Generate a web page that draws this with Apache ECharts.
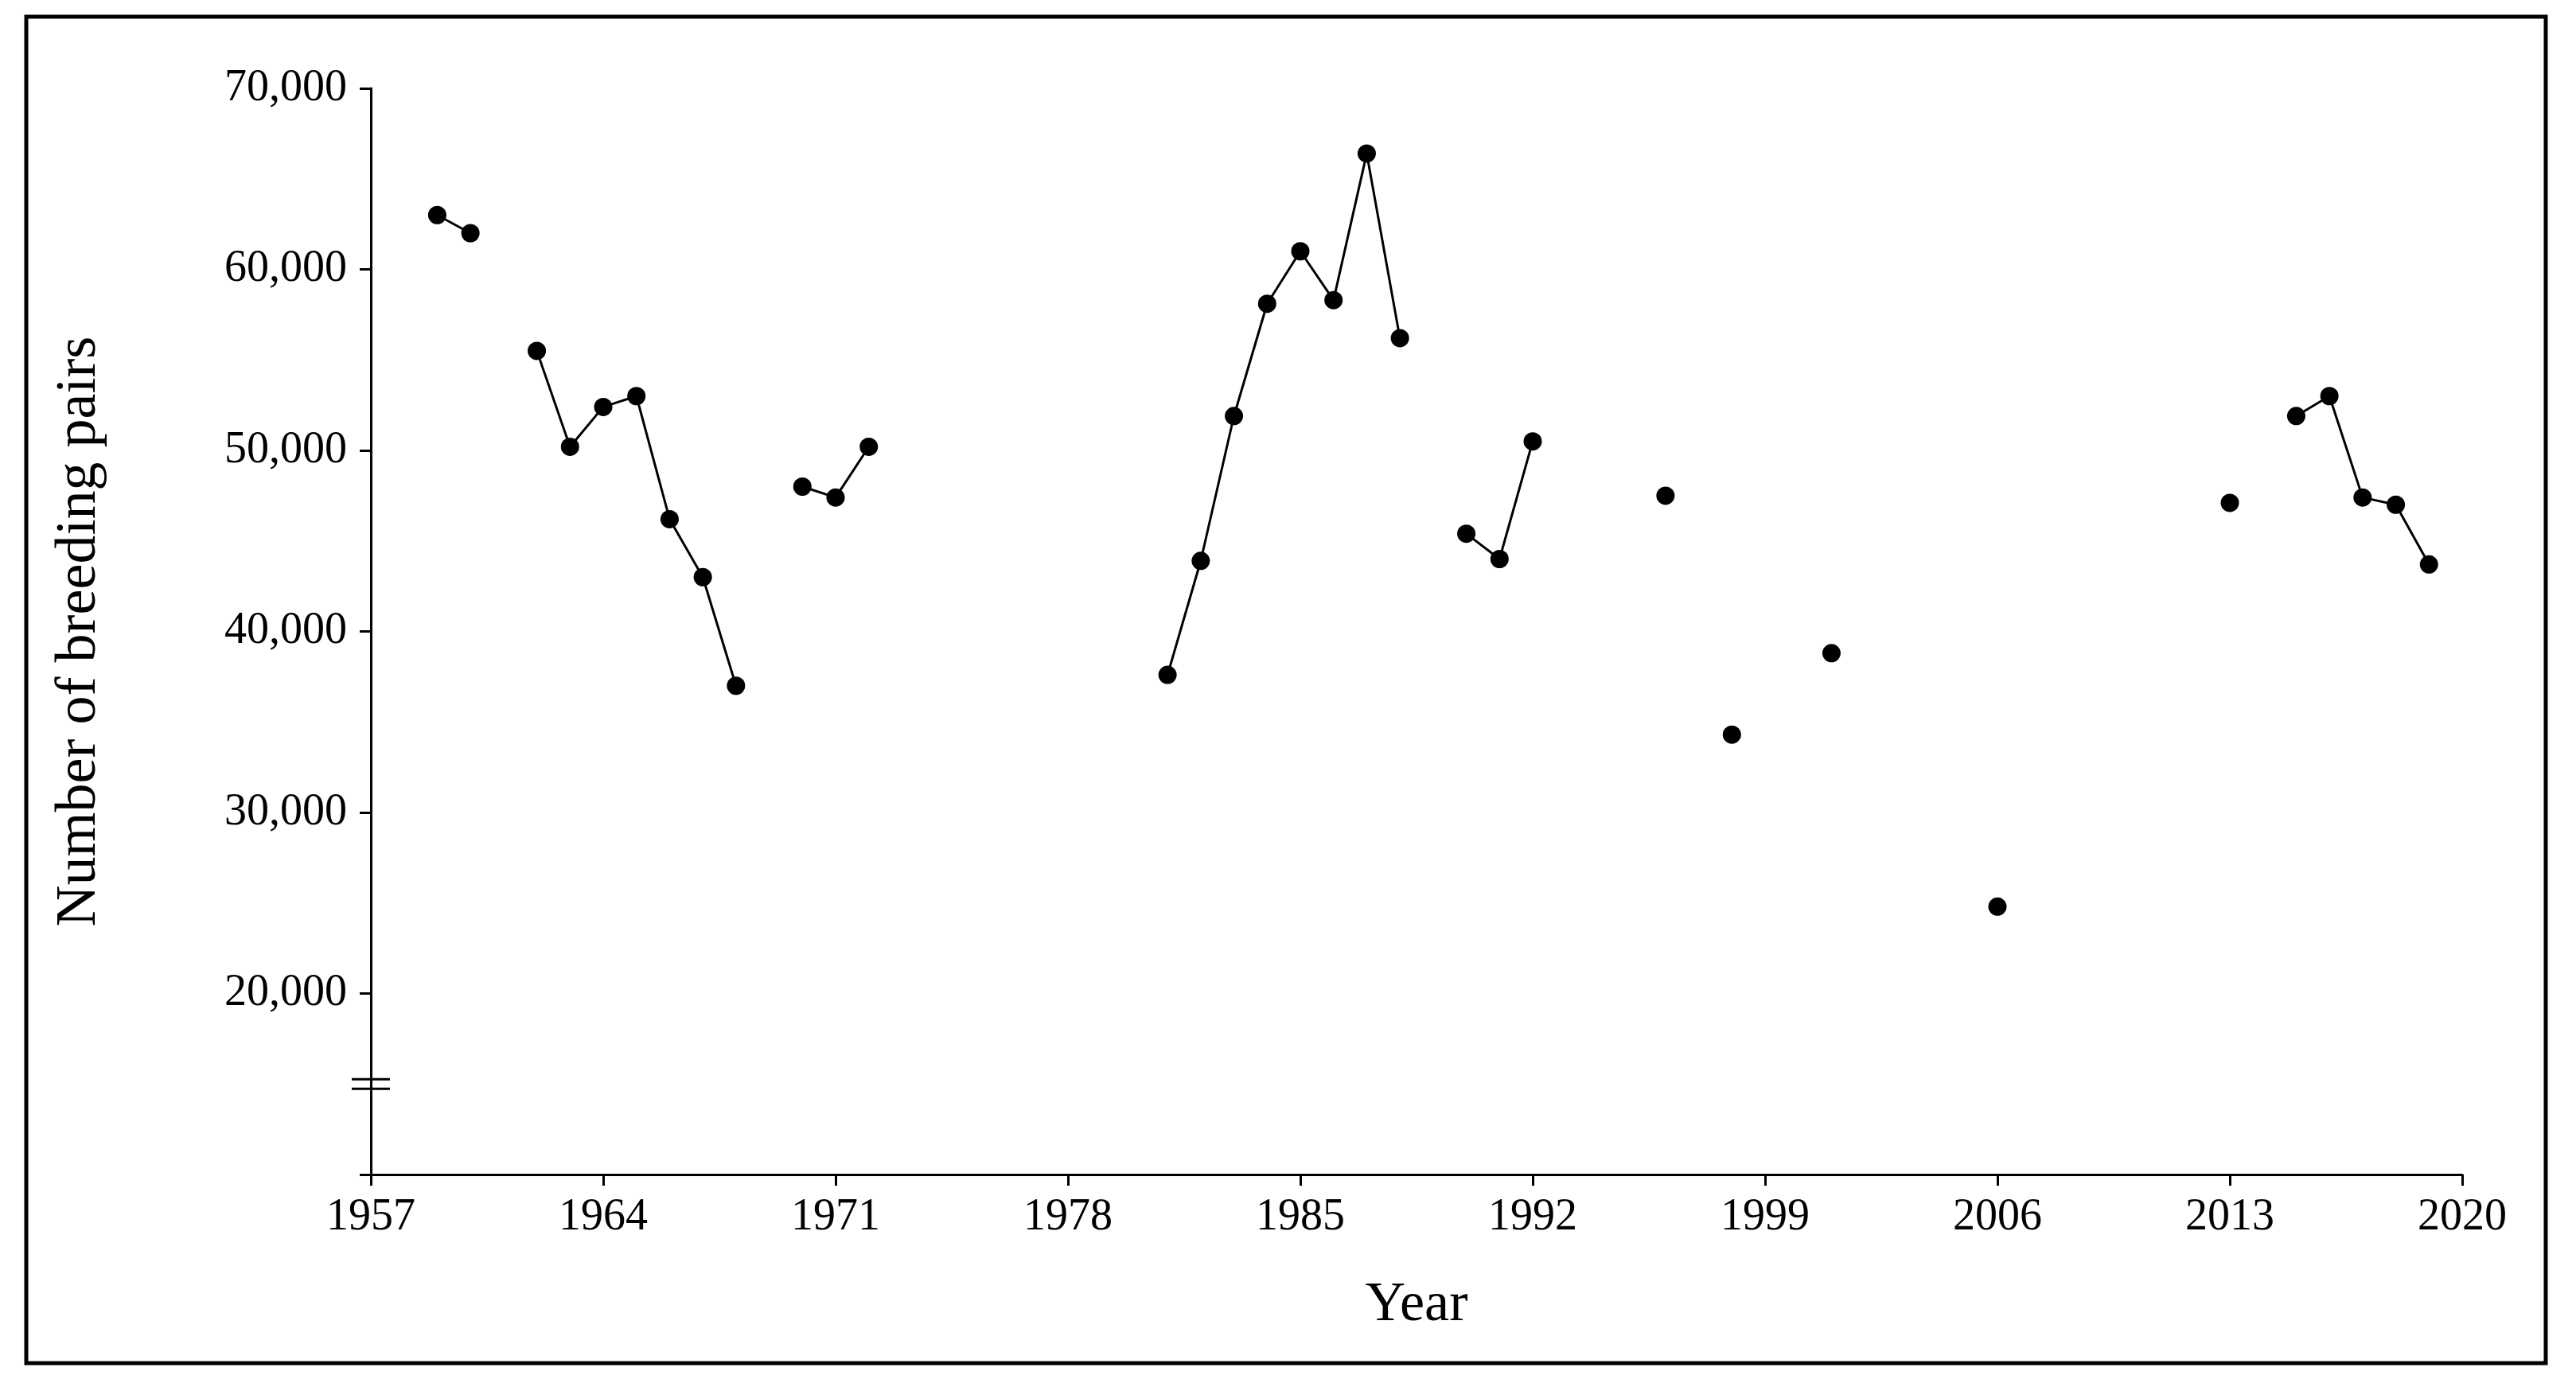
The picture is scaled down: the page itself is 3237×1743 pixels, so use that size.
<!DOCTYPE html>
<html>
<head>
<meta charset="utf-8">
<script src="https://cdn.jsdelivr.net/npm/echarts@6/dist/echarts.min.js"></script>
<style>html,body{margin:0;background:#fff}#chart{width:3237px;height:1743px}</style>
</head>
<body>
<div id="chart"></div>
<script>
// breeding pairs per year (missing years left out)
const years = [1959, 1960, 1962, 1963, 1964, 1965, 1966, 1967, 1968, 1970, 1971, 1972,
    1981, 1982, 1983, 1984, 1985, 1986, 1987, 1988, 1990, 1991, 1992, 1996, 1998, 2001,
    2006, 2013, 2015, 2016, 2017, 2018, 2019];
const pairs = [63000, 62000, 55500, 50200, 52400, 53000, 46200, 43000, 37000, 48000, 47400, 50200,
    37600, 43900, 51900, 58100, 61000, 58300, 66400, 56200, 45400, 44000, 50500, 47500, 34300, 38800,
    24800, 47100, 51900, 53000, 47400, 47000, 43700];

const firstYear = 1957;
const lastYear = 2020;
const categories = [];
const values = [];
for (let y = firstYear; y <= lastYear; y++) {
    categories.push(String(y));
    const i = years.indexOf(y);
    values.push(i >= 0 ? pairs[i] : null);
}

const font = 'Liberation Serif';
const option = {
    animation: false,
    grid: { left: 466, right: 143, top: 111, bottom: 267 },
    xAxis: {
        type: 'category',
        data: categories,
        boundaryGap: false,
        name: 'Year',
        nameLocation: 'middle',
        nameGap: 130,
        nameTextStyle: { fontFamily: font, fontSize: 70, color: '#000' },
        axisLine: { lineStyle: { color: '#000', width: 3 } },
        axisTick: { interval: 6, length: 14, lineStyle: { color: '#000', width: 3 } },
        axisLabel: { interval: 6, fontFamily: font, fontSize: 56, color: '#000', margin: 26 }
    },
    yAxis: {
        type: 'value',
        min: 10000,
        max: 70000,
        interval: 10000,
        name: 'Number of breeding pairs',
        nameLocation: 'middle',
        nameGap: 330,
        nameTextStyle: { fontFamily: font, fontSize: 72, color: '#000' },
        splitLine: { show: false },
        axisLine: { show: true, lineStyle: { color: '#000', width: 3 } },
        axisTick: { show: true, length: 14, lineStyle: { color: '#000', width: 3 } },
        axisLabel: {
            fontFamily: font, fontSize: 56, color: '#000', margin: 30,
            formatter: v => v === 10000 ? '' : v.toLocaleString('en-US')
        }
    },
    series: [{
        type: 'line',
        data: values,
        connectNulls: false,
        symbol: 'circle',
        symbolSize: 23,
        showAllSymbol: true,
        itemStyle: { color: '#000' },
        lineStyle: { color: '#000', width: 3 }
    }]
};

const myChart = echarts.init(document.getElementById('chart'));
myChart.setOption(option);

// axis break marker and outer frame
const bx = myChart.convertToPixel({ gridIndex: 0 }, [0, 15000]);
myChart.setOption({
    graphic: [
        { type: 'rect', shape: { x: 33, y: 21, width: 3166, height: 1692 },
          style: { fill: 'none', stroke: '#000', lineWidth: 5 } },
        { type: 'rect', shape: { x: bx[0] - 12, y: bx[1] - 6, width: 24, height: 12 },
          style: { fill: '#fff' } },
        { type: 'line', shape: { x1: bx[0] - 24, y1: bx[1] - 6, x2: bx[0] + 24, y2: bx[1] - 6 },
          style: { stroke: '#000', lineWidth: 3 } },
        { type: 'line', shape: { x1: bx[0] - 24, y1: bx[1] + 6, x2: bx[0] + 24, y2: bx[1] + 6 },
          style: { stroke: '#000', lineWidth: 3 } }
    ]
});
</script>
</body>
</html>
